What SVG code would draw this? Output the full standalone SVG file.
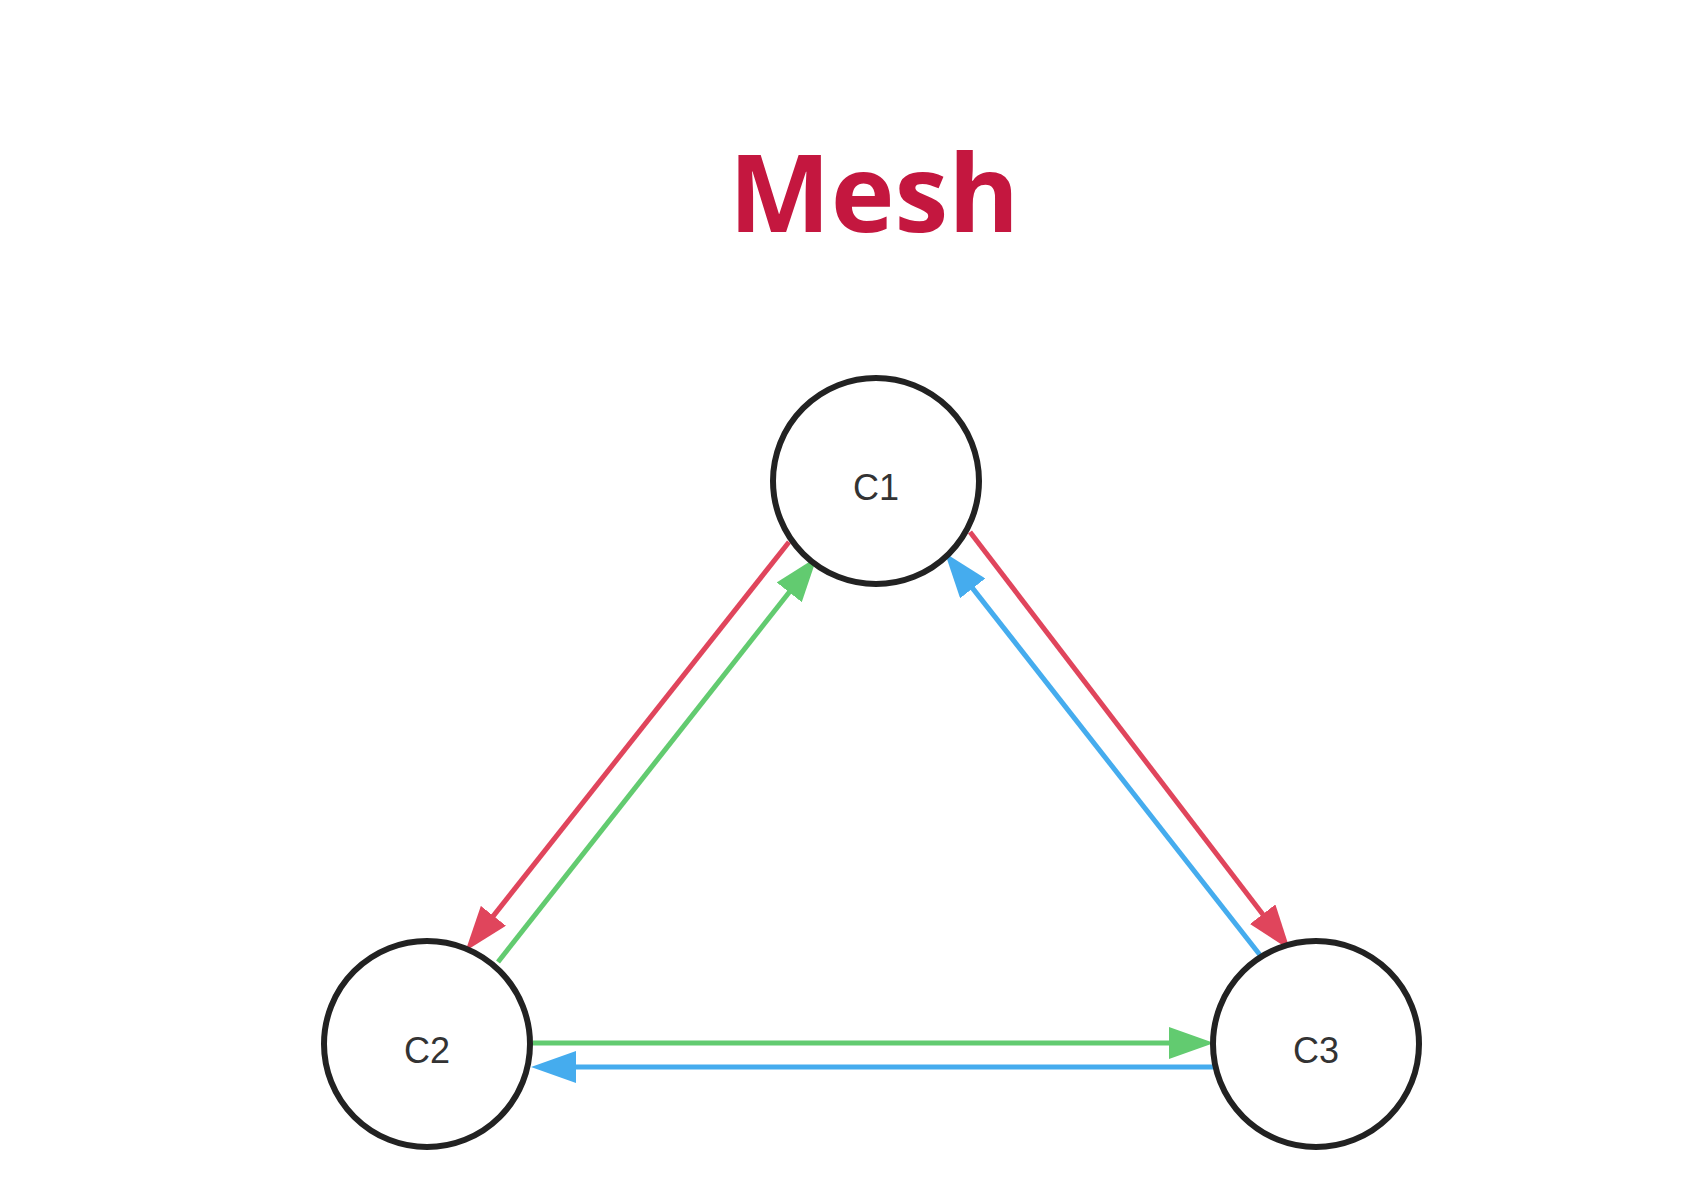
<svg xmlns="http://www.w3.org/2000/svg" width="1692" height="1190" viewBox="0 0 1692 1190">
  <style>
    .node { fill: #ffffff; stroke: #222222; stroke-width: 6; }
    .label { font-family: "Liberation Sans", Arial, sans-serif; font-size: 36px; fill: #333333; text-anchor: middle; }
    .title { font-family: "Open Sans", "Noto Sans", sans-serif; font-weight: 700; font-size: 108px; fill: #C4173F; text-anchor: middle; }
    .red { stroke: #E0455C; stroke-width: 5; fill: none; }
    .green { stroke: #62CB70; stroke-width: 5; fill: none; }
    .blue { stroke: #45ACEE; stroke-width: 5; fill: none; }
  </style>
  <defs>
    <marker id="ahRed" markerUnits="userSpaceOnUse" markerWidth="46" markerHeight="32" refX="1" refY="16" orient="auto">
      <path d="M0,0 L45,16 L0,32 Z" fill="#E0455C"/>
    </marker>
    <marker id="ahGreen" markerUnits="userSpaceOnUse" markerWidth="46" markerHeight="32" refX="1" refY="16" orient="auto">
      <path d="M0,0 L45,16 L0,32 Z" fill="#62CB70"/>
    </marker>
    <marker id="ahBlue" markerUnits="userSpaceOnUse" markerWidth="46" markerHeight="32" refX="1" refY="16" orient="auto">
      <path d="M0,0 L45,16 L0,32 Z" fill="#45ACEE"/>
    </marker>
  </defs>
  <rect width="1692" height="1190" fill="#ffffff"/>
  <text class="title" x="874" y="232">Mesh</text>
  <g id="connectors">
    <path id="c1-c2" class="red" d="M789,542 L492.8,916.6" marker-end="url(#ahRed)"/>
    <path id="c2-c1" class="green" d="M498,962 L789.8,591.5" marker-end="url(#ahGreen)"/>
    <path id="c1-c3" class="red" d="M970,532 L1263.3,915" marker-end="url(#ahRed)"/>
    <path id="c3-c1" class="blue" d="M1260,955 L972.1,587.6" marker-end="url(#ahBlue)"/>
    <path id="c2-c3" class="green" d="M533,1043 L1170,1043" marker-end="url(#ahGreen)"/>
    <path id="c3-c2" class="blue" d="M1215,1067 L575,1067" marker-end="url(#ahBlue)"/>
  </g>
  <g id="C1">
    <circle class="node" cx="876" cy="481" r="103"/>
    <text class="label" x="876" y="500">C1</text>
  </g>
  <g id="C2">
    <circle class="node" cx="427" cy="1044" r="103"/>
    <text class="label" x="427" y="1063">C2</text>
  </g>
  <g id="C3">
    <circle class="node" cx="1316" cy="1044" r="103"/>
    <text class="label" x="1316" y="1063">C3</text>
  </g>
</svg>
